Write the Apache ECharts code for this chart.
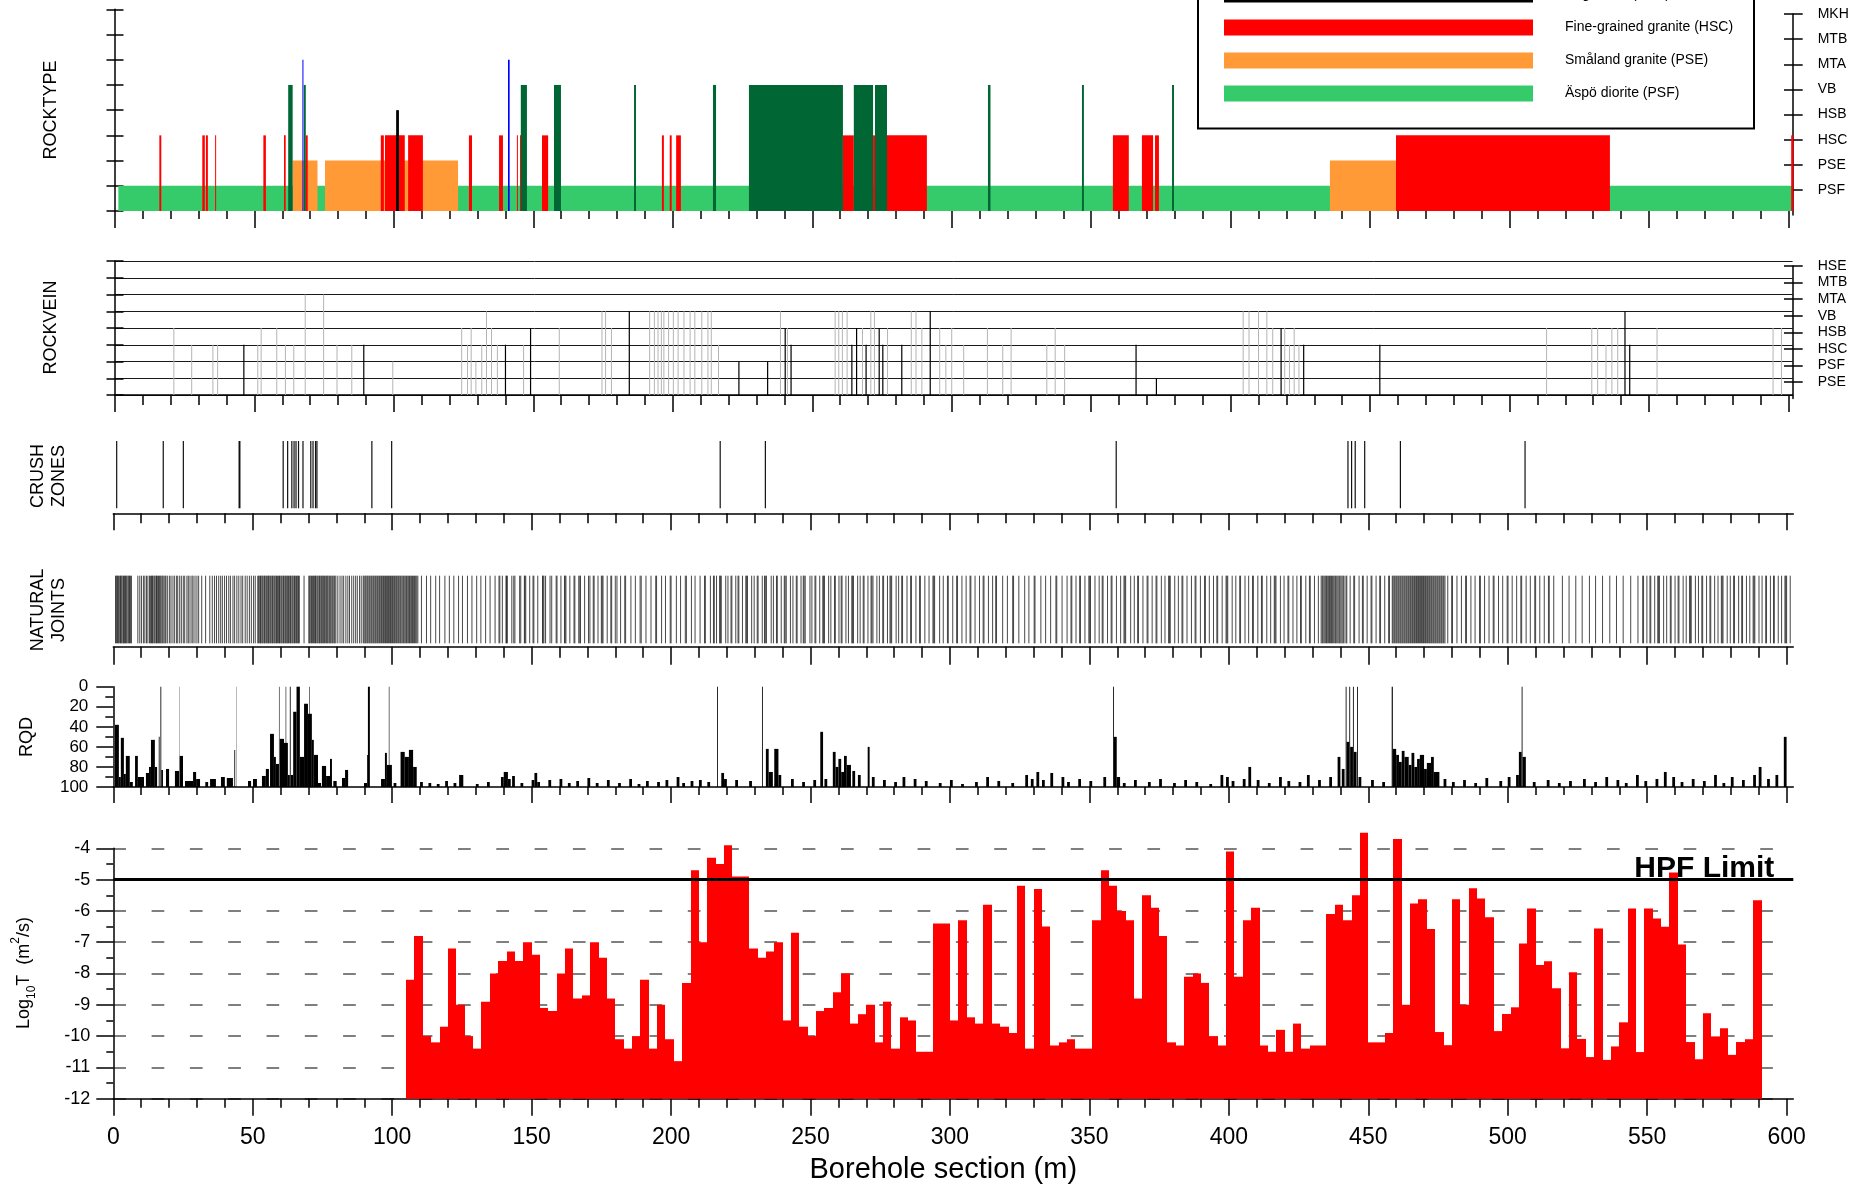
<!DOCTYPE html>
<html>
<head>
<meta charset="utf-8">
<title>KAS borehole log</title>
<script src="https://cdn.jsdelivr.net/npm/echarts/dist/echarts.min.js"></script>
<style>
  html, body { margin: 0; padding: 0; background: #ffffff; }
  #chart { width: 1865px; height: 1186px; }
</style>
</head>
<body>
<div id="chart"></div>
<script>
// ---------------------------------------------------------------
// Borehole log data (depths in metres along the borehole)
// ---------------------------------------------------------------

// Rock type codes; the drawn level of a code is its index + 1
const rockCodes = ['PSF', 'PSE', 'HSC', 'HSB', 'VB', 'MTA', 'MTB', 'MKH'];
const rockNames = {
  HSB: 'Pegmatite (HSB)',
  HSC: 'Fine-grained granite (HSC)',
  PSE: 'Småland granite (PSE)',
  PSF: 'Äspö diorite (PSF)'
};
const legendOrder = ['HSB', 'HSC', 'PSE', 'PSF'];

// Mapped rock type intervals [from, to, code]
const rocktypeIntervals = [
  [1.2, 601.3, 'PSF'],
  [63.7, 72.6, 'PSE'], [75.3, 123.0, 'PSE'], [435.6, 459.3, 'PSE'],
  [15.9, 16.6, 'HSC'], [31.3, 32.2, 'HSC'], [32.6, 33.3, 'HSC'], [35.9, 36.2, 'HSC'],
  [53.2, 54.1, 'HSC'], [60.6, 61.2, 'HSC'], [68.4, 69.1, 'HSC'], [95.3, 96.4, 'HSC'],
  [96.8, 103.9, 'HSC'], [105.1, 110.4, 'HSC'], [126.9, 128.0, 'HSC'], [137.7, 139.1, 'HSC'],
  [144.1, 144.4, 'HSC'], [145.2, 145.5, 'HSC'], [153.1, 155.3, 'HSC'], [196.1, 196.8, 'HSC'],
  [198.9, 199.6, 'HSC'], [201.2, 202.9, 'HSC'], [261.0, 264.9, 'HSC'], [271.8, 272.5, 'HSC'],
  [276.8, 291.1, 'HSC'], [357.8, 363.5, 'HSC'], [368.2, 372.2, 'HSC'], [372.9, 374.3, 'HSC'],
  [459.3, 536.0, 'HSC'], [601.0, 601.8, 'HSC'],
  [100.8, 101.8, 'HSB'],
  [62.1, 63.7, 'VB'], [67.7, 68.4, 'VB'], [145.5, 147.7, 'VB'], [157.4, 159.9, 'VB'],
  [186.1, 186.8, 'VB'], [214.4, 215.5, 'VB'], [227.3, 261.0, 'VB'], [264.9, 271.8, 'VB'],
  [272.5, 276.8, 'VB'], [313.0, 313.9, 'VB'], [346.7, 347.4, 'VB'], [379.0, 379.7, 'VB'],
  [67.2, 67.4, 'MTA'], [140.9, 141.5, 'MTA']
];

// Rock vein codes; the drawn level of a code is its index + 1
const veinCodes = ['PSE', 'PSF', 'HSC', 'HSB', 'VB', 'MTA', 'MTB', 'HSE'];

// Veins [depth, level]: narrow veins and wide veins
const veinsNarrow = [
  [21.1, 4], [27.5, 3], [35.1, 3], [36.8, 3], [51.2, 3], [52.4, 4], [58.0, 4], [61.1, 3],
  [64.1, 3], [68.2, 6], [74.8, 6], [79.6, 3], [84.9, 3], [99.6, 2],
  [124.3, 4], [126.4, 3], [127.7, 4], [129.4, 2], [131.5, 3], [133.2, 5], [135.0, 4], [137.1, 3],
  [146.5, 3], [159.3, 4], [174.6, 5], [175.9, 5], [178.0, 4],
  [191.7, 5], [193.4, 5], [194.7, 5], [195.9, 5], [196.8, 5], [198.5, 5], [200.2, 5], [201.9, 5],
  [204.0, 5], [206.2, 5], [207.9, 5], [210.4, 5], [212.6, 5], [213.8, 5], [216.4, 3],
  [238.6, 5], [241.1, 4], [258.2, 5], [259.5, 5], [260.8, 5], [262.5, 5], [268.0, 4],
  [271.0, 5], [272.3, 5], [277.0, 4], [285.5, 5], [287.2, 5], [289.3, 4], [295.7, 4],
  [297.9, 3], [300.0, 4], [304.3, 3], [312.8, 4], [318.3, 3], [321.3, 4], [334.1, 3],
  [337.1, 4], [340.5, 3], [404.5, 5], [406.6, 5], [410.0, 5], [413.0, 5], [415.1, 4],
  [419.4, 4], [421.1, 3], [422.8, 4], [424.5, 3], [513.3, 4], [529.5, 4], [531.6, 4],
  [534.6, 3], [536.7, 4], [538.8, 4], [552.9, 4], [594.5, 4], [597.5, 4]
];
const veinsWide = [
  [46.2, 3], [89.2, 3], [140.0, 3], [149.0, 4], [184.4, 5], [223.7, 2], [234.0, 2],
  [240.3, 4], [242.4, 3], [264.2, 3], [265.9, 4], [269.3, 3], [274.0, 4], [275.3, 3],
  [282.1, 3], [292.3, 5], [366.1, 3], [373.4, 1], [418.1, 4], [426.2, 3], [453.5, 3],
  [541.4, 5], [543.1, 3]
];

// Crush zones [from, to]
const crushZones = [
  [1.0, 1.3], [17.7, 18.0], [24.9, 25.2], [44.9, 45.6], [60.7, 61.0], [62.3, 62.6],
  [63.8, 64.1], [64.6, 65.0], [65.3, 65.7], [66.2, 66.5], [67.8, 68.1], [70.6, 70.9],
  [71.4, 71.7], [72.3, 72.6], [72.8, 73.1], [92.5, 92.8], [99.6, 99.9], [217.4, 217.7],
  [233.6, 233.9], [359.4, 359.7], [442.5, 442.8], [443.8, 444.1], [445.1, 445.4],
  [448.5, 448.8], [461.3, 461.6], [506.0, 506.3]
];

// Natural joint depths
const naturalJoints = [
  0.8,1.1,1.4,1.6,1.9,2.3,2.6,2.8,3.1,3.5,3.7,4.0,4.4,4.6,4.9,5.3,5.6,5.8,6.2,6.5,
  8.8,9.5,10.1,10.8,11.3,11.9,12.4,
  13.0,13.3,13.7,14.0,14.2,14.6,14.9,15.3,15.5,15.8,16.2,16.5,16.8,17.1,17.5,17.8,18.2,18.6,18.9,
  19.5,20.2,20.7,21.4,22.0,22.7,23.1,23.8,24.4,25.1,25.6,26.4,26.9,27.5,28.2,28.6,29.3,30.0,30.6,
  31.7,33.1,34.6,35.5,
  36.3,37.0,37.8,38.5,39.1,39.9,40.6,41.4,42.0,42.9,43.5,44.3,45.0,45.8,46.4,47.3,48.0,48.8,49.5,50.3,50.9,
  51.8,52.1,52.5,52.8,53.0,53.4,53.7,54.1,54.3,54.7,55.0,55.4,55.6,55.9,56.3,56.6,57.0,57.2,57.6,57.9,
  58.3,58.5,58.9,59.2,59.6,59.8,60.2,60.5,60.9,61.1,61.5,61.8,62.2,62.4,62.8,63.1,63.5,63.7,64.1,64.4,
  64.8,65.0,65.4,65.7,66.1,66.4,66.7,68.4,
  70.1,70.4,70.8,71.1,71.4,71.8,72.1,72.5,72.7,73.1,73.4,73.8,74.0,74.4,74.7,75.1,75.3,75.7,76.0,76.4,
  76.7,77.0,77.4,77.7,78.0,78.4,78.7,79.1,79.4,79.8,
  80.5,81.3,82.0,82.6,83.4,84.1,84.7,85.5,86.2,86.9,87.5,88.3,88.9,
  89.6,89.9,90.3,90.6,91.0,91.3,91.7,92.0,92.4,92.7,93.1,93.4,93.8,94.1,94.5,94.8,95.2,95.5,95.9,96.2,
  96.6,96.9,97.3,97.6,98.0,98.3,98.7,99.0,99.4,99.7,100.1,100.4,100.8,101.1,101.5,101.8,102.2,102.5,102.9,103.2,
  103.6,104.0,104.3,104.7,105.1,105.4,105.8,106.2,106.5,106.9,107.3,107.6,108.0,108.4,108.8,109.2,
  110.5,112.3,113.8,115.6,117.0,118.9,120.5,122.1,123.8,125.2,127.0,128.6,130.3,131.8,133.5,135.1,136.9,
  138.3,138.6,139.5,140.8,141.0,141.3,142.9,143.6,144.0,145.7,146.1,147.4,147.6,147.9,149.3,150.5,150.8,152.2,
  153.9,154.1,154.4,155.0,156.6,157.2,158.8,159.1,160.5,161.8,162.0,162.3,163.7,165.2,165.5,166.9,167.3,167.5,
  169.0,170.4,170.9,172.1,172.4,173.8,175.0,175.3,175.6,177.1,178.4,178.7,180.0,180.6,
  181.9,183.4,183.7,185.6,187.2,188.9,189.3,191.0,192.8,194.5,194.8,196.6,198.0,199.7,200.0,201.9,203.4,205.1,
  205.5,207.3,208.6,210.4,212.0,212.3,214.1,
  215.2,215.5,216.3,217.4,217.7,218.0,219.6,220.4,221.5,221.8,223.2,224.0,224.3,225.6,226.8,227.1,227.4,228.9,
  229.8,230.9,231.2,232.7,233.5,233.8,234.2,235.9,236.7,237.8,238.1,239.5,240.6,240.9,241.3,242.8,243.7,244.9,
  245.2,246.6,247.4,247.7,248.1,249.8,250.5,251.6,251.9,253.3,254.4,254.7,255.0,256.5,257.3,258.6,258.9,260.2,
  261.0,261.3,262.7,263.6,264.8,265.1,265.4,266.9,267.8,268.9,269.2,270.6,271.7,272.0,272.4,273.8,274.7,275.9,
  276.2,277.6,278.5,278.8,279.1,280.7,281.6,282.7,283.0,
  284.6,285.9,286.2,287.8,289.1,289.4,291.0,292.5,293.9,294.2,294.5,296.3,297.6,299.1,299.4,301.0,302.4,302.7,
  304.3,305.8,307.2,307.5,309.0,310.6,311.9,312.2,313.8,315.3,316.4,316.7,
  318.9,320.6,322.5,322.8,324.7,326.8,328.3,330.2,330.5,332.6,334.3,336.1,338.0,338.3,340.2,342.0,
  343.4,343.7,345.2,346.5,346.8,348.4,349.8,350.1,350.4,352.0,353.5,354.6,354.9,356.5,357.8,358.1,359.7,361.2,
  362.4,362.7,363.0,364.8,366.1,367.3,367.6,369.2,370.7,371.0,372.5,373.9,374.2,375.8,377.1,378.4,378.7,379.0,
  380.6,381.9,383.2,383.5,385.0,
  386.6,387.9,388.2,389.8,391.3,391.6,393.0,394.5,395.7,396.0,397.6,399.0,399.3,399.6,401.2,402.5,403.9,404.2,
  405.8,407.1,408.5,408.8,410.4,411.7,412.0,413.6,415.0,416.3,416.6,416.9,418.5,419.8,421.2,421.5,423.0,424.4,
  425.7,426.0,427.6,428.9,429.2,430.7,432.1,
  433.1,433.5,433.8,434.2,434.6,435.0,435.3,435.7,436.1,436.5,436.8,437.2,437.6,438.0,438.3,438.7,439.1,439.5,
  439.8,440.2,440.6,441.0,441.3,
  442.0,442.3,443.5,444.8,445.1,446.7,447.9,448.2,449.6,451.0,451.3,452.8,454.1,454.4,455.9,457.3,457.6,
  458.6,458.9,459.3,459.6,460.0,460.3,460.7,461.0,461.4,461.7,462.1,462.4,462.8,463.1,463.5,463.8,464.2,464.5,
  464.9,465.2,465.6,465.9,466.3,466.6,467.0,467.3,467.7,468.0,468.4,468.7,469.1,469.4,469.8,470.1,470.5,470.8,
  471.2,471.5,471.9,472.2,472.6,472.9,473.3,473.6,474.0,474.3,474.7,475.0,475.4,475.7,476.1,476.4,476.8,477.1,477.5,
  478.5,479.9,480.2,481.8,483.4,484.9,485.2,486.8,488.3,489.9,490.2,491.7,493.3,494.8,495.1,496.7,498.2,499.8,
  500.1,501.6,503.2,504.7,505.0,506.6,508.1,509.7,510.0,511.5,513.1,514.6,514.9,516.5,
  519.6,522.0,524.4,526.7,529.3,531.5,534.0,536.6,539.0,541.4,544.1,546.7,
  548.4,548.7,549.9,551.0,551.3,552.7,553.8,554.1,554.4,555.9,557.0,558.3,558.6,560.0,561.1,561.4,562.9,564.0,
  565.2,565.5,565.8,567.3,568.4,569.6,569.9,571.3,572.5,572.8,574.2,575.4,576.6,576.9,577.2,578.7,579.8,581.0,
  581.3,582.8,583.9,584.2,585.6,586.8,588.0,588.3,588.6,590.1,591.2,592.5,592.8,594.2,595.3,595.6,597.0,598.2,
  599.4,599.7,600.0,601.3
];

// RQD per core interval [from, to, RQD %]
const rqdIntervals = [
  [0.6,2.0,38],[2.0,2.7,90],[2.7,3.8,51],[3.8,4.5,87],[4.5,5.9,69],[5.9,7.0,95],[7.8,8.8,69],
  [8.8,11.0,90],[11.7,12.8,86],[12.8,13.5,80],[13.5,14.9,53],[14.9,15.7,80],[16.3,16.6,50],
  [16.9,17.2,0],[17.2,17.8,83],[18.9,20.0,82],[22.1,23.6,84],[23.7,23.8,0],[23.8,25.0,69],
  [25.7,28.6,94],[28.6,29.7,85],[29.7,31.1,92],[33.0,34.0,95],[34.7,36.8,92],[38.6,40.0,90],
  [40.7,42.9,91],[43.4,43.7,63],[44.0,44.1,0],[48.3,49.4,94],[50.1,51.5,92],[53.3,54.7,89],
  [54.7,55.8,82],[56.2,57.6,47],[57.6,58.3,70],[58.3,59.4,77],[59.4,59.6,0],[59.7,61.2,52],
  [61.2,62.6,56],[61.8,62.0,0],[62.6,63.3,88],[63.3,63.6,0],[63.6,64.5,88],[64.5,65.7,25],
  [65.7,66.9,0],[66.9,68.4,70],[68.4,69.8,17],[69.8,71.2,27],[70.3,70.5,0],[71.2,71.9,53],
  [71.9,73.4,68],[73.4,74.5,96],[74.8,76.3,79],[76.3,77.7,89],[77.7,78.4,72],[78.9,80.1,94],
  [82.0,83.1,91],[83.1,84.2,83],[89.9,91.0,96],[91.0,91.3,68],[91.3,92.0,0],[96.0,97.4,92],
  [97.4,98.1,66],[98.1,99.9,78],[98.8,99.0,0],[100.5,101.5,96],
  [103.0,104.5,65],[104.5,106.0,70],[106.0,107.5,63],[107.5,108.8,80],[110,111,95],[113,114,96],
  [116,117,97],[119,120,94],[122,123,96],[124,125.5,88],[130,131,97],[134,135,95],[139,140,90],
  [140,141.5,85],[141.5,142.5,92],[143,144,89],[146,147,96],[150,151,93],[151,152,86],[152,153,95],
  [156,157,93],[160,161,92],[163,164,96],[166,167,94],[170,171,91],[173,174,96],[177,178,93],
  [181,182,96],[185,186,92],[188,189,97],[191,192,94],[195,196,95],[198,199,93],[202,203,90],
  [204,205,96],[207,208,94],[210,211,93],[213,214,95],[216.5,216.8,0],[218,219,86],[219,220,92],
  [223,224,93],[228,229,94],[232.6,232.9,0],[234,235,62],[235,236.5,85],[237,238.5,62],
  [238.5,239.5,88],[243,244,92],[247,248,95],[251,252,93],[253.5,254.5,45],[255,256,92],
  [258,259,65],[259,260,80],[260,261,72],[261,262,85],[262,263,69],[263,264.5,78],[265,266,84],
  [267,268,88],[270.5,271.2,60],[272,273,90],[276,277,93],[280,281,95],[283,284,90],[287,288,92],
  [291,292,94],[296,297,96],[300,301,93],[304,305,97],[309,310,95],[313,314,90],[317,318,94],
  [322,323,96],[327,328,88],[329,330,92],[331,332,85],[333,334,93],[336,337,86],[340,341,90],
  [342,343,95],[346,347,92],[350,351,94],[355,356,90],[358.5,358.8,0],[358.8,359.8,50],
  [359.8,361,90],[362,363,96],[366,367,93],[371,372,95],[375,376,92],[380,381,96],[384,385,93],
  [388,389,95],[393,394,97],[397,398,88],[399,400,90],[401,402,94],[405,406,92],[407,408,80],
  [410,411,93],[414,415,96],[418,419,90],[421,422,94],[425,426,95],[428,429,88],[432,433,93],
  [436,437,90],[439,440,70],[440.5,441.5,82],[441.9,442.2,0],[442.2,443.2,55],[443.2,443.5,0],
  [443.5,444.5,60],[444.5,444.8,0],[444.8,445.8,65],[446,446.3,0],[446.5,447.5,90],[451,452,93],
  [455,456,95],[458.4,458.8,0],[458.8,460,62],[460,461,68],[461,462,75],[462,463,64],[463,464.5,70],
  [464.5,465.5,78],[465.5,466.5,66],[466.5,467.5,80],[467.5,468.5,72],[468.5,470,68],[470,471,82],
  [471,472.5,76],[472.5,473.5,70],[473.5,475.5,85],[477,478,92],[480,481,95],[484,485,93],
  [488,489,96],[492,493,91],[497,498,94],[500,501,90],[503,504,88],[504,505,65],[505,505.3,0],
  [505.3,506.5,70],[509,510,95],[514,515,93],[518,519,96],[522,523,94],[527,528,92],[531,532,95],
  [535,536,90],[539,540,93],[542,543,96],[546,547,88],[549,550,94],[553,554,92],[556,557,85],
  [559,560,90],[562,563,95],[566,567,92],[570,571,94],[574,575,88],[577,578,96],[580,581,90],
  [584,585,93],[588,589,88],[590,591,80],[593,594,92],[596,597,88],[599,600,50]
];

// Hydraulic tests: 3 m sections, start depth and log10 transmissivity (m2/s)
const sectionLength = 3;
const sectionFrom = [
  105,108,111,114,117,120,123,126,129,132,135,138,141,144,147,150,153,156,159,162,
  165,168,171,174,177,180,183,186,189,192,195,198,201,204,207,210,213,216,219,222,
  225,228,231,234,237,240,243,246,249,252,255,258,261,264,267,270,273,276,279,282,
  285,288,291,294,297,300,303,306,309,312,315,318,321,324,327,330,333,336,339,342,
  345,348,351,354,357,360,363,366,369,372,375,378,381,384,387,390,393,396,399,402,
  405,408,411,414,417,420,423,426,429,432,435,438,441,444,447,450,453,456,459,462,
  465,468,471,474,477,480,483,486,489,492,495,498,501,504,507,510,513,516,519,522,
  525,528,531,534,537,540,543,546,549,552,555,558,561,564,567,570,573,576,579,582,
  585,588
];
const logT = [
  -8.2,-6.8,-10.0,-10.2,-9.7,-7.2,-9.0,-10.0,-10.4,-8.9,
  -8.0,-7.6,-7.3,-7.6,-7.0,-7.4,-9.1,-9.2,-8.0,-7.2,
  -8.8,-8.7,-7.0,-7.5,-8.8,-10.1,-10.4,-10.0,-8.2,-10.4,
  -9.0,-10.1,-10.8,-8.3,-4.7,-7.0,-4.3,-4.5,-3.9,-4.9,
  -4.9,-7.2,-7.5,-7.3,-7.0,-9.5,-6.7,-9.7,-10.0,-9.2,
  -9.1,-8.6,-8.0,-9.6,-9.3,-9.0,-10.2,-8.9,-10.4,-9.4,
  -9.5,-10.5,-10.5,-6.4,-6.4,-9.5,-6.3,-9.4,-9.6,-5.8,
  -9.6,-9.7,-9.9,-5.2,-10.4,-5.3,-6.5,-10.3,-10.2,-10.1,
  -10.4,-10.4,-6.3,-4.7,-5.2,-6.0,-6.3,-8.8,-5.5,-5.9,
  -6.8,-10.2,-10.3,-8.1,-8.0,-8.3,-10.0,-10.3,-4.1,-8.1,
  -6.3,-5.9,-10.3,-10.5,-9.8,-10.5,-9.6,-10.4,-10.3,-10.3,
  -6.1,-5.8,-6.3,-5.5,-3.5,-10.2,-10.2,-9.9,-3.7,-9.0,
  -5.76,-5.63,-6.58,-9.87,-10.29,-5.63,-9.0,-5.28,-5.6,-6.2,
  -9.84,-9.29,-9.08,-7.04,-5.92,-7.73,-7.61,-8.47,-10.39,-7.96,
  -10.09,-10.67,-6.56,-10.76,-10.33,-9.56,-5.92,-10.51,-5.92,-6.24,
  -6.51,-4.77,-7.07,-10.19,-10.74,-9.27,-10.01,-9.75,-10.6,-10.19,
  -10.1,-5.66
];
const hpfLimit = -5;

// Axis ticks
const depthTicks = [0, 50, 100, 150, 200, 250, 300, 350, 400, 450, 500, 550, 600];
const codeTicks = [1, 2, 3, 4, 5, 6, 7, 8];

// ---------------------------------------------------------------
// Chart
// ---------------------------------------------------------------
const FONT = '"Liberation Sans", Arial, Helvetica, sans-serif';
const rockColors = {
  PSF: '#36CB6A', PSE: '#FF9A36', HSC: '#FF0000', HSB: '#000000',
  VB: '#006633', MTA: '#0000FF', MTB: '#7F00FF', MKH: '#996633'
};
const BLACK = '#000000';
const TOP_MAX = 601.5;
const BOT_MAX = 602.4;

function tickLine(w) { return { color: BLACK, width: w }; }

function depthAxis(gridIndex, max, opt) {
  return {
    type: 'value', gridIndex: gridIndex, min: 0, max: max, interval: 50,
    show: opt.show !== false,
    axisLine: { show: !!opt.line, onZero: false, lineStyle: tickLine(1.5) },
    axisTick: { show: true, customValues: depthTicks, length: opt.major || 16, lineStyle: tickLine(1.5) },
    minorTick: { show: true, splitNumber: 5, length: opt.minor || 8, lineStyle: tickLine(1.5) },
    axisLabel: opt.labels ? {
      show: true, customValues: depthTicks, fontSize: 23, color: BLACK, fontFamily: FONT, margin: 27
    } : { show: false },
    splitLine: { show: false },
    offset: opt.offset || 0,
    name: opt.name || '',
    nameLocation: 'middle',
    nameGap: 57,
    nameTextStyle: { fontSize: 29, color: BLACK, fontFamily: FONT, padding: [0, 20, 0, 0] }
  };
}

function levelAxis(gridIndex, opt) {
  return {
    type: 'value', gridIndex: gridIndex, min: opt.min, max: opt.max, interval: opt.interval || 1,
    position: opt.position || 'left',
    inverse: !!opt.inverse,
    show: opt.show !== false,
    axisLine: { show: !!opt.line, onZero: false, lineStyle: tickLine(1.5) },
    axisTick: Object.assign({ show: !!opt.tick, inside: !!opt.inside, length: opt.tickLen || 8,
      lineStyle: tickLine(1.5) }, opt.tickValues ? { customValues: opt.tickValues } : {}),
    minorTick: opt.minor ? { show: true, splitNumber: 2, length: opt.minor, lineStyle: tickLine(1.5) } : { show: false },
    axisLabel: opt.label || { show: false },
    splitLine: opt.split || { show: false }
  };
}

// Rect from a depth interval and a value range on the given axes
function intervalRect(api, x0, x1, y0, y1, minW, snap) {
  const a = api.coord([x0, y0]);
  const b = api.coord([x1, y1]);
  let left = a[0];
  let right = b[0];
  if (snap) { left = Math.round(left); right = Math.round(right); }
  const w = Math.max(right - left, minW || 0);
  return { x: left, y: Math.min(a[1], b[1]), width: w, height: Math.abs(a[1] - b[1]) };
}

const option = {
  animation: false,
  backgroundColor: '#ffffff',
  textStyle: { fontFamily: FONT },
  grid: [
    { left: 115, top: 9.3, width: 1677.6, height: 201.7 },      // 0 rock type
    { left: 115, top: 14, width: 1677.7, height: 201.1 },       // 1 rock type code axis
    { left: 115, top: 261, width: 1677.6, height: 134 },        // 2 rock veins
    { left: 115, top: 266, width: 1677.7, height: 132.6 },      // 3 rock vein code axis
    { left: 113.3, top: 441, width: 1680, height: 67.3 },       // 4 crush zones
    { left: 113.3, top: 575.7, width: 1680, height: 67.6 },     // 5 natural joints
    { left: 113.3, top: 686.7, width: 1680, height: 100.3 },    // 6 RQD
    { left: 113.3, top: 848.3, width: 1680, height: 250.4 }     // 7 transmissivity
  ],
  xAxis: [
    depthAxis(0, TOP_MAX, { line: false, major: 17, minor: 8 }),
    depthAxis(1, TOP_MAX, { show: false }),
    depthAxis(2, TOP_MAX, { line: true, major: 17, minor: 10 }),
    depthAxis(3, TOP_MAX, { show: false }),
    depthAxis(4, BOT_MAX, { line: true, major: 17, minor: 10, offset: 5 }),
    depthAxis(5, BOT_MAX, { line: true, major: 18, minor: 11, offset: 3.4 }),
    depthAxis(6, BOT_MAX, { line: true, major: 16, minor: 8 }),
    depthAxis(7, BOT_MAX, { line: true, major: 17, minor: 9, labels: true, name: 'Borehole section (m)' })
  ],
  yAxis: [
    levelAxis(0, { min: 0, max: 8, line: true, tick: true, tickLen: 8.5 }),
    levelAxis(0, { min: 0, max: 8, tick: true, inside: true, tickLen: 8.5 }),
    levelAxis(1, { min: 0, max: 8, position: 'right', line: true, tick: true, tickLen: 10, tickValues: codeTicks,
      label: { show: true, customValues: codeTicks, formatter: v => rockCodes[v - 1], margin: 25,
        fontSize: 14, color: BLACK, fontFamily: FONT } }),
    levelAxis(1, { min: 0, max: 8, position: 'right', tick: true, inside: true, tickLen: 8.7, tickValues: codeTicks }),
    levelAxis(2, { min: 0, max: 8, line: true, tick: true, tickLen: 8.5,
      split: { show: true, lineStyle: { color: '#1a1a1a', width: 1 } } }),
    levelAxis(2, { min: 0, max: 8, tick: true, inside: true, tickLen: 8.5 }),
    levelAxis(3, { min: 0, max: 8, position: 'right', line: true, tick: true, tickLen: 10, tickValues: codeTicks,
      label: { show: true, customValues: codeTicks, formatter: v => veinCodes[v - 1], margin: 25,
        fontSize: 14, color: BLACK, fontFamily: FONT } }),
    levelAxis(3, { min: 0, max: 8, position: 'right', tick: true, inside: true, tickLen: 8.7, tickValues: codeTicks }),
    levelAxis(4, { min: 0, max: 1, show: false }),
    levelAxis(5, { min: 0, max: 1, show: false }),
    levelAxis(6, { min: 0, max: 100, interval: 20, inverse: true, line: true, tick: true, tickLen: 17, minor: 8,
      label: { show: true, fontSize: 17, color: BLACK, fontFamily: FONT, margin: 25 } }),
    levelAxis(7, { min: -12, max: -4, interval: 1, line: true, tick: true, tickLen: 17, minor: 7,
      label: { show: true, fontSize: 18, color: BLACK, fontFamily: FONT, margin: 23 },
      split: { show: true, lineStyle: { color: '#555555', width: 1.5, type: [12.7, 25.6] } } })
  ],
  series: [
    {
      name: 'Rock type', type: 'custom', xAxisIndex: 0, yAxisIndex: 0,
      data: rocktypeIntervals.map(d => [d[0], d[1], rockCodes.indexOf(d[2]) + 1]),
      renderItem: function (params, api) {
        const code = rocktypeIntervals[params.dataIndex][2];
        return { type: 'rect', shape: intervalRect(api, api.value(0), api.value(1), 0, api.value(2), 1),
          style: { fill: rockColors[code] } };
      }
    },
    {
      name: 'Narrow veins', type: 'custom', xAxisIndex: 2, yAxisIndex: 4,
      data: veinsNarrow,
      renderItem: function (params, api) {
        const a = api.coord([api.value(0), 0]);
        const b = api.coord([api.value(0), api.value(1)]);
        return { type: 'line', shape: { x1: a[0], y1: a[1], x2: b[0], y2: b[1] },
          style: { stroke: '#b4b4b4', lineWidth: 1 } };
      }
    },
    {
      name: 'Wide veins', type: 'custom', xAxisIndex: 2, yAxisIndex: 4,
      data: veinsWide,
      renderItem: function (params, api) {
        const a = api.coord([api.value(0), 0]);
        const b = api.coord([api.value(0), api.value(1)]);
        return { type: 'line', shape: { x1: a[0], y1: a[1], x2: b[0], y2: b[1] },
          style: { stroke: BLACK, lineWidth: 1.2 } };
      }
    },
    {
      name: 'Crush zones', type: 'custom', xAxisIndex: 4, yAxisIndex: 8,
      data: crushZones,
      renderItem: function (params, api) {
        return { type: 'rect', shape: intervalRect(api, api.value(0), api.value(1), 0, 1, 1.2),
          style: { fill: '#111111' } };
      }
    },
    {
      name: 'Natural joints', type: 'custom', xAxisIndex: 5, yAxisIndex: 9,
      data: naturalJoints.map(v => [v, 0]),
      renderItem: function (params, api) {
        const a = api.coord([api.value(0), 0]);
        const b = api.coord([api.value(0), 1]);
        return { type: 'line', shape: { x1: a[0], y1: a[1], x2: b[0], y2: b[1] },
          style: { stroke: '#1a1a1a', lineWidth: 0.8 } };
      }
    },
    {
      name: 'RQD', type: 'custom', xAxisIndex: 6, yAxisIndex: 10,
      data: rqdIntervals,
      renderItem: function (params, api) {
        return { type: 'rect', shape: intervalRect(api, api.value(0), api.value(1), 100, api.value(2), 0),
          style: { fill: BLACK } };
      }
    },
    {
      name: 'Log10 T', type: 'custom', xAxisIndex: 7, yAxisIndex: 11,
      data: sectionFrom.map((d, i) => [d, logT[i]]),
      renderItem: function (params, api) {
        const from = api.value(0);
        return { type: 'rect', shape: intervalRect(api, from, from + sectionLength, -12, api.value(1), 0, true),
          style: { fill: '#FF0000' } };
      },
      markLine: {
        silent: true, symbol: ['none', 'none'], animation: false,
        lineStyle: { color: BLACK, width: 3, type: 'solid' },
        emphasis: { disabled: true },
        label: { show: true, position: 'insideEndTop', formatter: 'HPF Limit', fontSize: 30,
          fontWeight: 'bold', color: BLACK, fontFamily: FONT, distance: [19, -4.5] },
        data: [[{ coord: [0, hpfLimit] }, { coord: [BOT_MAX, hpfLimit] }]]
      }
    }
  ],
  graphic: []
};

// Rock type legend box (its upper part runs off the top edge)
const legendItems = [];
legendItems.push({ type: 'rect', shape: { x: 1198, y: -220, width: 556, height: 348.5 },
  style: { fill: '#ffffff', stroke: BLACK, lineWidth: 2 } });
legendOrder.forEach(function (code, i) {
  const cy = -5.6 + i * 33;
  legendItems.push({ type: 'rect', shape: { x: 1224, y: cy - 8, width: 309, height: 16 },
    style: { fill: rockColors[code] } });
  legendItems.push({ type: 'text', x: 1565, y: cy,
    style: { text: rockNames[code], fontSize: 14, fontFamily: FONT, fill: BLACK,
      align: 'left', verticalAlign: 'middle' } });
});
option.graphic.push({ type: 'group', z: 100, children: legendItems });

// Panel titles
function panelTitle(text, x, y) {
  return { type: 'text', x: x, y: y, rotation: Math.PI / 2, z: 100,
    style: { text: text, fontSize: 18, lineHeight: 21, fontFamily: FONT, fill: BLACK,
      align: 'center', verticalAlign: 'middle' } };
}
option.graphic.push(panelTitle('ROCKTYPE', 51, 110));
option.graphic.push(panelTitle('ROCKVEIN', 51, 327.5));
option.graphic.push(panelTitle('CRUSH\nZONES', 49, 476));
option.graphic.push(panelTitle('NATURAL\nJOINTS', 49, 610));
option.graphic.push(panelTitle('RQD', 27.5, 737));
option.graphic.push({ type: 'text', x: 24, y: 973, rotation: Math.PI / 2, z: 100,
  style: {
    text: '{n|Log}{s|10}{n|T  (m}{p|2}{n|/s)}',
    align: 'center', verticalAlign: 'middle', fill: BLACK,
    rich: {
      n: { fontSize: 18, fontFamily: FONT, lineHeight: 28, verticalAlign: 'middle', fill: BLACK },
      s: { fontSize: 12, fontFamily: FONT, lineHeight: 12, verticalAlign: 'bottom', fill: BLACK },
      p: { fontSize: 12, fontFamily: FONT, lineHeight: 12, verticalAlign: 'top', fill: BLACK }
    }
  } });

const chart = echarts.init(document.getElementById('chart'), null, { renderer: 'canvas' });
chart.setOption(option);
</script>
</body>
</html>
